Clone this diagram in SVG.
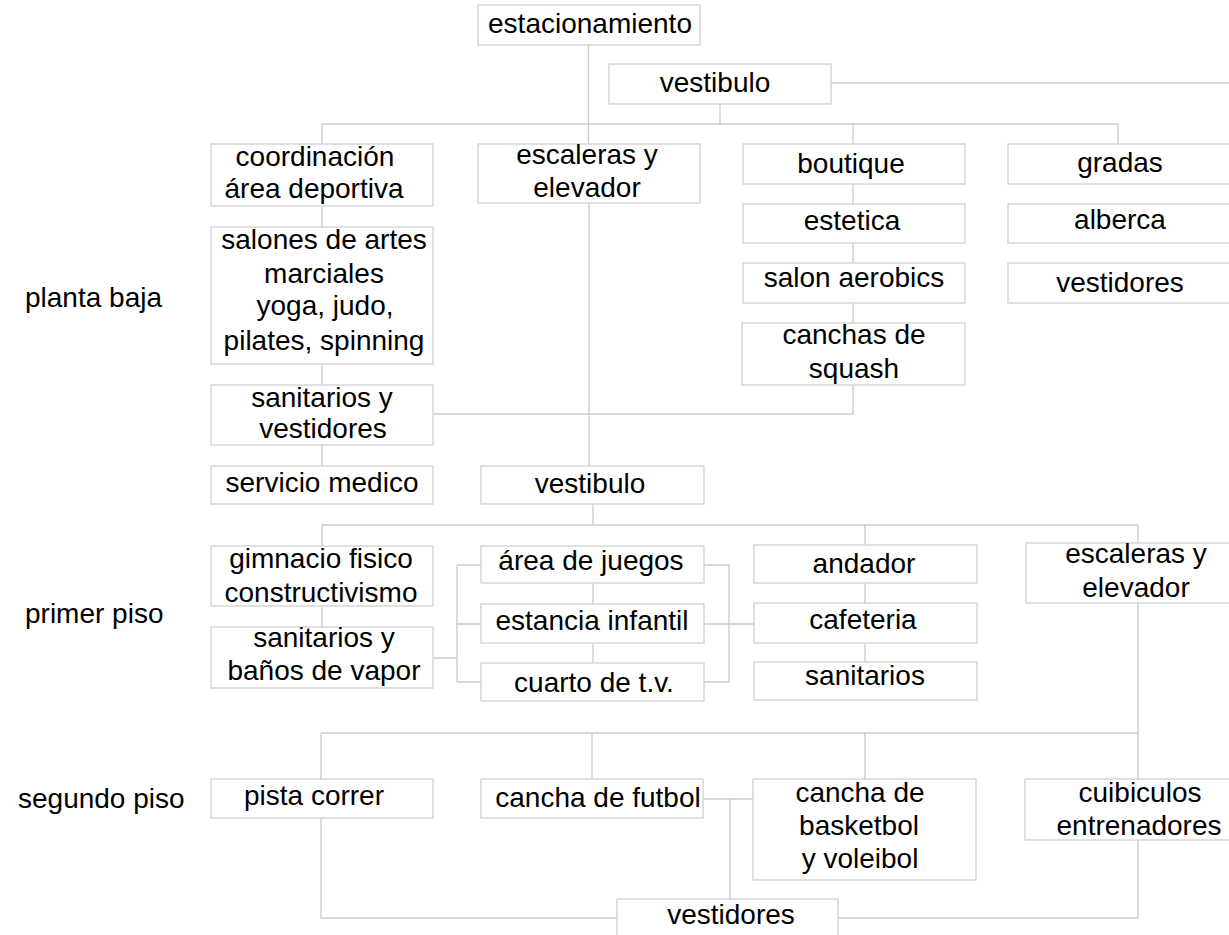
<svg xmlns="http://www.w3.org/2000/svg" width="1229" height="935" viewBox="0 0 1229 935">
<style>
.b{fill:#fff;stroke:#d0d0d0;stroke-width:1.3}
.c{fill:none;stroke:#cbcbcb;stroke-width:1.3}
text{font-family:"Liberation Sans",Arial,sans-serif;font-size:28px;fill:#000;text-anchor:middle}
.l{text-anchor:start}
</style>
<rect width="1229" height="935" fill="#fff"/>
<g id="connectors">
<path class="c" d="M588.5 45V144M720 104V124M322 124H1118M322 124V144M853 124V144M1118 124V144M831 83H1229"/>
<path class="c" d="M322 206V227M322 364V385M322 445V466M853 184V204M853 243V263M853 303V323M853 385V414H433M589 203V466"/>
<path class="c" d="M593 504V525M322 525H1138M322 525V546M865 525V545M1138 525V543M322 606V627"/>
<path class="c" d="M593 583V604M593 643V663M865 583V603M865 643V662M433 658H457M457 565V682M457 565H481M457 624H481M457 682H481M704 565H729V682H704M704 624H754"/>
<path class="c" d="M1138 603V779M321 733H1138M321 733V779M592 733V779M865 733V779M703 799H753M730 799V899M321 818V918H617M838 918H1138V840"/>
</g>
<g id="label-planta-baja"><text class="l" x="25" y="307">planta baja</text></g>
<g id="label-primer-piso"><text class="l" x="25" y="623">primer piso</text></g>
<g id="label-segundo-piso"><text class="l" x="18" y="808">segundo piso</text></g>
<g id="estacionamiento"><rect class="b" x="478" y="5" width="222" height="40"/><text x="590" y="33">estacionamiento</text></g>
<g id="vestibulo1"><rect class="b" x="609" y="64" width="222" height="40"/><text x="715" y="92">vestibulo</text></g>
<g id="coordinacion"><rect class="b" x="211" y="144" width="222" height="62"/><text x="315" y="166">coordinación</text><text x="314" y="198">área deportiva</text></g>
<g id="escaleras1"><rect class="b" x="478" y="144" width="222" height="59"/><text x="587" y="164">escaleras y</text><text x="587" y="197">elevador</text></g>
<g id="boutique"><rect class="b" x="743" y="144" width="222" height="40"/><text x="851" y="173">boutique</text></g>
<g id="estetica"><rect class="b" x="743" y="204" width="222" height="39"/><text x="852" y="230">estetica</text></g>
<g id="salon-aerobics"><rect class="b" x="743" y="263" width="222" height="40"/><text x="854" y="287">salon aerobics</text></g>
<g id="canchas-squash"><rect class="b" x="742" y="323" width="223" height="62"/><text x="854" y="344">canchas de</text><text x="854" y="378">squash</text></g>
<g id="gradas"><rect class="b" x="1008" y="144" width="224" height="40"/><text x="1120" y="172">gradas</text></g>
<g id="alberca"><rect class="b" x="1008" y="204" width="224" height="39"/><text x="1120" y="229">alberca</text></g>
<g id="vestidores1"><rect class="b" x="1008" y="263" width="224" height="40"/><text x="1120" y="292">vestidores</text></g>
<g id="salones"><rect class="b" x="211" y="227" width="222" height="137"/><text x="324" y="249">salones de artes</text><text x="324" y="283">marciales</text><text x="325" y="315">yoga, judo,</text><text x="324" y="350">pilates, spinning</text></g>
<g id="sanitarios-vestidores"><rect class="b" x="211" y="385" width="222" height="60"/><text x="322" y="407">sanitarios y</text><text x="323" y="438">vestidores</text></g>
<g id="servicio-medico"><rect class="b" x="211" y="466" width="222" height="38"/><text x="322" y="492">servicio medico</text></g>
<g id="vestibulo2"><rect class="b" x="481" y="466" width="223" height="38"/><text x="590" y="493">vestibulo</text></g>
<g id="gimnacio"><rect class="b" x="211" y="546" width="222" height="60"/><text x="321" y="568">gimnacio fisico</text><text x="321" y="602">constructivismo</text></g>
<g id="sanitarios-banos"><rect class="b" x="211" y="627" width="222" height="61"/><text x="324" y="647">sanitarios y</text><text x="324" y="680">baños de vapor</text></g>
<g id="area-juegos"><rect class="b" x="481" y="546" width="223" height="37"/><text x="591" y="570">área de juegos</text></g>
<g id="estancia-infantil"><rect class="b" x="481" y="604" width="223" height="39"/><text x="592" y="630">estancia infantil</text></g>
<g id="cuarto-tv"><rect class="b" x="481" y="663" width="223" height="38"/><text x="594" y="692">cuarto de t.v.</text></g>
<g id="andador"><rect class="b" x="754" y="545" width="223" height="38"/><text x="864" y="573">andador</text></g>
<g id="cafeteria"><rect class="b" x="754" y="603" width="223" height="40"/><text x="863" y="629">cafeteria</text></g>
<g id="sanitarios2"><rect class="b" x="754" y="662" width="223" height="38"/><text x="865" y="685">sanitarios</text></g>
<g id="escaleras2"><rect class="b" x="1026" y="543" width="220" height="60"/><text x="1136" y="563">escaleras y</text><text x="1136" y="597">elevador</text></g>
<g id="pista-correr"><rect class="b" x="211" y="779" width="222" height="39"/><text x="314" y="805">pista correr</text></g>
<g id="cancha-futbol"><rect class="b" x="481" y="779" width="222" height="39"/><text x="598" y="807">cancha de futbol</text></g>
<g id="cancha-basketbol"><rect class="b" x="753" y="779" width="223" height="101"/><text x="860" y="802">cancha de</text><text x="859" y="835">basketbol</text><text x="860" y="868">y voleibol</text></g>
<g id="cuibiculos"><rect class="b" x="1025" y="779" width="230" height="61"/><text x="1140" y="802">cuibiculos</text><text x="1139" y="835">entrenadores</text></g>
<g id="vestidores2"><rect class="b" x="617" y="899" width="221" height="45"/><text x="731" y="924">vestidores</text></g>
</svg>
